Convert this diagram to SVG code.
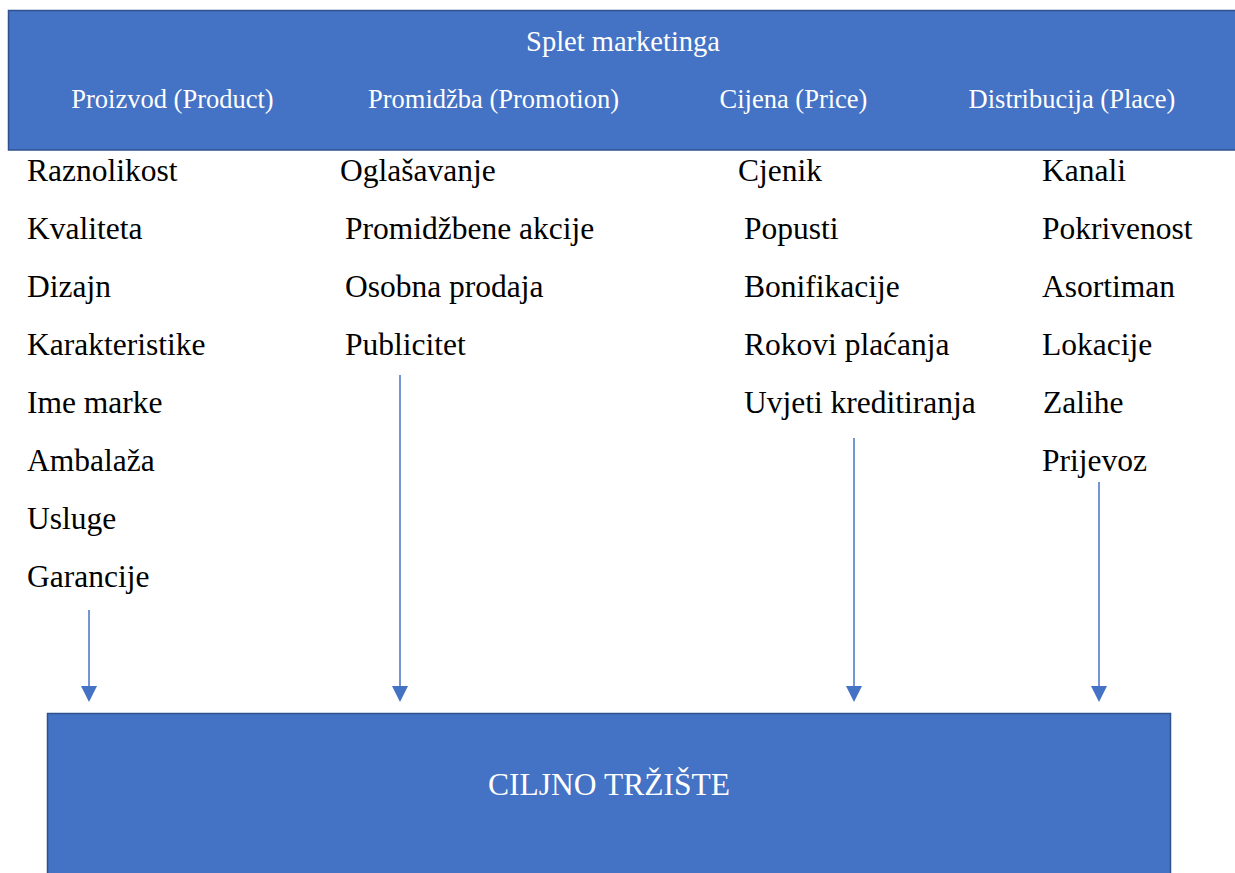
<svg xmlns="http://www.w3.org/2000/svg" width="1235" height="873" viewBox="0 0 1235 873">
<style>
.box{fill:#4472C4;stroke:#2F528F;stroke-width:1.5}
text{font-family:'Liberation Serif',serif}
.hdr{fill:#FFFFFF;text-anchor:middle}
.item{font-size:31.5px;fill:#000000}
.conn{stroke:#4472C4;stroke-width:1.5;fill:none}
.head{fill:#4472C4}
</style>
<rect width="1235" height="873" fill="#FFFFFF"/>
<g id="splet-marketinga">
<rect class="box" x="8.5" y="10.5" width="1240" height="139.5"/>
<text class="hdr" x="623" y="51" font-size="28.5">Splet marketinga</text>
<text class="hdr" x="172.5" y="108" font-size="26.5">Proizvod (Product)</text>
<text class="hdr" x="493.5" y="108" font-size="26.5">Promidžba (Promotion)</text>
<text class="hdr" x="793.5" y="108" font-size="26.5">Cijena (Price)</text>
<text class="hdr" x="1072" y="108" font-size="26.5">Distribucija (Place)</text>
</g>
<g id="proizvod-list">
<text class="item" x="27" y="181">Raznolikost</text>
<text class="item" x="27" y="239">Kvaliteta</text>
<text class="item" x="27" y="297">Dizajn</text>
<text class="item" x="27" y="355">Karakteristike</text>
<text class="item" x="27" y="413">Ime marke</text>
<text class="item" x="27" y="471">Ambalaža</text>
<text class="item" x="27" y="529">Usluge</text>
<text class="item" x="27" y="587">Garancije</text>
</g>
<g id="promidzba-list">
<text class="item" x="340" y="181">Oglašavanje</text>
<text class="item" x="345" y="239">Promidžbene akcije</text>
<text class="item" x="345" y="297">Osobna prodaja</text>
<text class="item" x="345" y="355">Publicitet</text>
</g>
<g id="cijena-list">
<text class="item" x="738" y="181">Cjenik</text>
<text class="item" x="744" y="239">Popusti</text>
<text class="item" x="744" y="297">Bonifikacije</text>
<text class="item" x="744" y="355">Rokovi plaćanja</text>
<text class="item" x="744" y="413">Uvjeti kreditiranja</text>
</g>
<g id="distribucija-list">
<text class="item" x="1042" y="181">Kanali</text>
<text class="item" x="1042" y="239">Pokrivenost</text>
<text class="item" x="1042" y="297">Asortiman</text>
<text class="item" x="1042" y="355">Lokacije</text>
<text class="item" x="1043" y="413">Zalihe</text>
<text class="item" x="1042" y="471">Prijevoz</text>
</g>
<g id="ciljno-trziste">
<rect class="box" x="47.5" y="713.5" width="1123" height="170"/>
<text class="hdr" x="609" y="795" font-size="31.5">CILJNO TRŽIŠTE</text>
</g>
<g id="connectors">
<line class="conn" x1="89" y1="610" x2="89" y2="688"/>
<polygon class="head" points="81,686 97,686 89,702"/>
<line class="conn" x1="400" y1="375" x2="400" y2="688"/>
<polygon class="head" points="392,686 408,686 400,702"/>
<line class="conn" x1="854" y1="438" x2="854" y2="688"/>
<polygon class="head" points="846,686 862,686 854,702"/>
<line class="conn" x1="1099" y1="482" x2="1099" y2="688"/>
<polygon class="head" points="1091,686 1107,686 1099,702"/>
</g>
</svg>
